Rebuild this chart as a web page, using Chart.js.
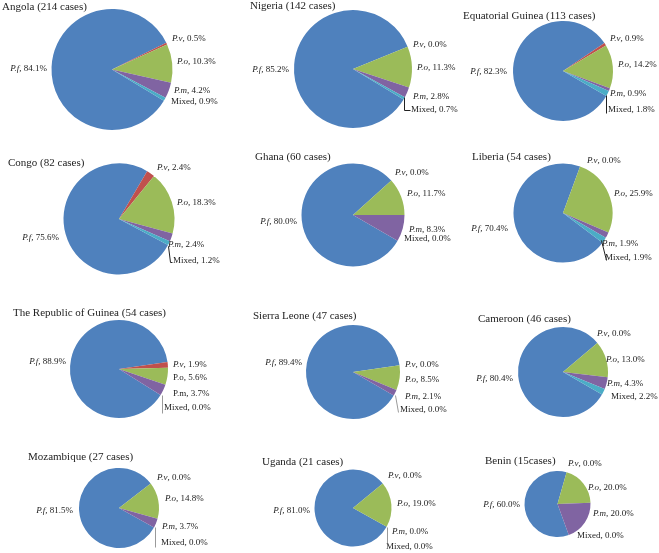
<!DOCTYPE html>
<html>
<head>
<meta charset="utf-8">
<script src="https://cdn.jsdelivr.net/npm/chart.js@4.4.0/dist/chart.umd.min.js"></script>
<style>
html, body { margin: 0; padding: 0; background: #fff; }
#wrap { position: relative; width: 659px; height: 553px; overflow: hidden; }
#wrap canvas { position: absolute; left: 0; top: 0; }
</style>
</head>
<body>
<div id="wrap"></div>
<script>
// data (percent of cases)
const titles = ["Angola (214 cases)", "Nigeria (142 cases)", "Equatorial Guinea (113 cases)",
  "Congo (82 cases)", "Ghana (60 cases)", "Liberia (54 cases)",
  "The Republic of Guinea (54 cases)", "Sierra Leone (47 cases)", "Cameroon (46 cases)",
  "Mozambique (27 cases)", "Uganda (21 cases)", "Benin (15cases)"];
const species = ["P.f", "P.v", "P.o", "P.m", "Mixed"];
const pf    = [84.1, 85.2, 82.3, 75.6, 80.0, 70.4, 88.9, 89.4, 80.4, 81.5, 81.0, 60.0];
const pv    = [0.5, 0.0, 0.9, 2.4, 0.0, 0.0, 1.9, 0.0, 0.0, 0.0, 0.0, 0.0];
const po    = [10.3, 11.3, 14.2, 18.3, 11.7, 25.9, 5.6, 8.5, 13.0, 14.8, 19.0, 20.0];
const pm    = [4.2, 2.8, 0.9, 2.4, 8.3, 1.9, 3.7, 2.1, 4.3, 3.7, 0.0, 20.0];
const mixed = [0.9, 0.7, 1.8, 1.2, 0.0, 1.9, 0.0, 0.0, 2.2, 0.0, 0.0, 0.0];

const colors = ['#4F81BD', '#C0504D', '#9BBB59', '#8064A2', '#4BACC6'];
const W = 659, H = 553;
const FONT = '"Liberation Serif", "Times New Roman", serif';

// layout: pie centre/radius, rotation, title pos, label pos, leader lines
const layout = [
  { c: [112, 69.5, 60.5], rot: 121, t: [2, 7], pf: [47, 69],
    l: [[172, 39], [177, 62], [174, 91], [171, 102]] },
  { c: [353, 69, 59], rot: 121, t: [250, 6], pf: [289, 70],
    l: [[413, 45], [417, 68], [413, 97], [411, 110]], lead: [[404, 97], [404, 110], [410, 110]] },
  { c: [563, 71, 50], rot: 120, t: [463, 16], pf: [507, 72],
    l: [[610, 39], [618, 65], [610, 94], [608, 110]], lead: [[606, 95], [606, 113]] },
  { c: [119, 219, 55.5], rot: 118, t: [8, 163], pf: [59, 238],
    l: [[157, 168], [177, 203], [168, 245], [173, 261]], lead: [[168, 246], [170, 262], [172, 262]] },
  { c: [353, 215, 51.5], rot: 120, t: [255, 157], pf: [297, 222],
    l: [[395, 173], [407, 194], [409, 230], [404, 239]] },
  { c: [563, 213, 49.5], rot: 127, t: [472, 157], pf: [508, 229],
    l: [[587, 161], [614, 194], [602, 244], [605, 258]], lead: [[601, 240], [606, 260]] },
  { c: [119, 369, 49], rot: 122, t: [13, 313], pf: [66, 362], plain: [2, 3],
    l: [[173, 365], [173, 378], [173, 394], [164, 408]], lead: [[162, 395], [162, 413]], gray: true },
  { c: [353, 372, 47], rot: 120, t: [253, 316], pf: [302, 363],
    l: [[405, 365], [405, 380], [405, 397], [400, 410]], lead: [[395, 395], [398, 412]], gray: true },
  { c: [563, 372, 45], rot: 120, t: [478, 319], pf: [513, 379],
    l: [[597, 334], [606, 360], [607, 384], [611, 397]] },
  { c: [119, 508, 40], rot: 119, t: [28, 457], pf: [73, 511],
    l: [[157, 478], [165, 499], [162, 527], [161, 543]], lead: [[155, 527], [155, 547]], gray: true },
  { c: [353, 508, 38.5], rot: 119, t: [262, 462], pf: [310, 511],
    l: [[388, 476], [397, 504], [392, 532], [386, 547]], lead: [[387, 527], [387, 543]], gray: true },
  { c: [557.5, 504, 33], rot: 160, t: [485, 461], pf: [520, 505],
    l: [[568, 464], [588, 488], [593, 514], [577, 536]] }
];

function drawLabel(ctx, name, value, x, y, italic, alignRight) {
  const rest = ', ' + value.toFixed(1) + '%';
  const fi = (italic ? 'italic ' : '') + '9px ' + FONT;
  const fn = '9px ' + FONT;
  ctx.font = fi;
  const w1 = ctx.measureText(name).width;
  ctx.font = fn;
  const w2 = ctx.measureText(rest).width;
  let x0 = alignRight ? x - w1 - w2 : x;
  ctx.font = fi;
  ctx.fillText(name, x0, y);
  ctx.font = fn;
  ctx.fillText(rest, x0 + w1, y);
}

const labelPlugin = {
  id: 'labels',
  afterDraw(chart) {
    const i = chart.options.plugins.labels.idx;
    const L = layout[i];
    const vals = chart.data.datasets[0].data;
    const ctx = chart.ctx;
    ctx.save();
    ctx.fillStyle = '#222';
    ctx.textBaseline = 'middle';
    ctx.textAlign = 'left';
    ctx.font = '11px ' + FONT;
    ctx.fillText(titles[i], L.t[0], L.t[1]);
    drawLabel(ctx, species[0], vals[0], L.pf[0], L.pf[1], true, true);
    for (let k = 1; k < 5; k++) {
      const italic = k < 4 && !(L.plain && L.plain.includes(k));
      drawLabel(ctx, species[k], vals[k], L.l[k - 1][0], L.l[k - 1][1], italic, false);
    }
    if (L.lead) {
      ctx.strokeStyle = L.gray ? '#9a9a9a' : '#222';
      ctx.lineWidth = 1;
      ctx.beginPath();
      L.lead.forEach((p, j) => j ? ctx.lineTo(p[0] + 0.5, p[1] + 0.5) : ctx.moveTo(p[0] + 0.5, p[1] + 0.5));
      ctx.stroke();
    }
    ctx.restore();
  }
};

const wrap = document.getElementById('wrap');
titles.forEach((t, i) => {
  const cv = document.createElement('canvas');
  cv.width = W; cv.height = H;
  wrap.appendChild(cv);
  const [cx, cy, r] = layout[i].c;
  new Chart(cv, {
    type: 'pie',
    data: {
      labels: species,
      datasets: [{
        data: [pf[i], pv[i], po[i], pm[i], mixed[i]],
        backgroundColor: colors,
        borderWidth: 0
      }]
    },
    options: {
      responsive: false,
      animation: false,
      events: [],
      rotation: layout[i].rot,
      layout: { padding: { left: cx - r, top: cy - r, right: W - cx - r, bottom: H - cy - r } },
      plugins: {
        legend: { display: false },
        tooltip: { enabled: false },
        labels: { idx: i }
      }
    },
    plugins: [labelPlugin]
  });
});
</script>
</body>
</html>
